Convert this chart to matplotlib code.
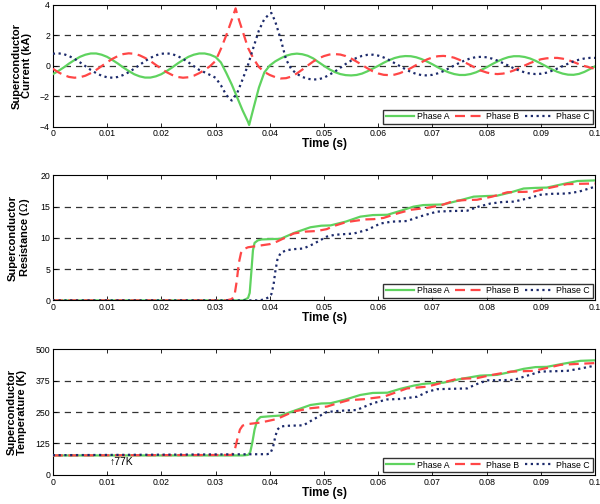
import matplotlib
matplotlib.use('Agg')
import matplotlib.pyplot as plt

plt.rcParams['font.family'] = ['Liberation Sans', 'DejaVu Sans']

# ---- data ----
# current (kA), sampled every ms, extra point at each fault peak
t_ia = [i / 1000 for i in range(0, 37)] + [0.0362] + [i / 1000 for i in range(37, 101)]
ia = [-0.57, -0.36, -0.13, 0.13, 0.36, 0.57, 0.71, 0.79, 0.79, 0.71,
      0.57, 0.36, 0.13, -0.13, -0.36, -0.57, -0.71, -0.79, -0.79, -0.71,
      -0.57, -0.36, -0.13, 0.13, 0.36, 0.57, 0.71, 0.79, 0.79, 0.71,
      0.56, 0.2, -0.5, -1.25, -2.1, -2.95, -3.7, -3.9,
      -2.8, -1.45, -0.45, 0.0, 0.27, 0.47, 0.64, 0.74, 0.78, 0.74,
      0.64, 0.47, 0.22, -0.02, -0.25, -0.43, -0.56, -0.63, -0.65, -0.62,
      -0.53, -0.38, -0.2, -0.02, 0.18, 0.35, 0.49, 0.58, 0.62, 0.61,
      0.54, 0.42, 0.26, 0.08, -0.12, -0.3, -0.45, -0.56, -0.62, -0.62,
      -0.56, -0.45, -0.29, -0.11, 0.09, 0.27, 0.43, 0.55, 0.61, 0.61,
      0.56, 0.46, 0.31, 0.13, -0.06, -0.25, -0.41, -0.53, -0.6, -0.61,
      -0.55, -0.42, -0.24, -0.05]

t_ib = [i / 1000 for i in range(0, 34)] + [0.0337] + [i / 1000 for i in range(34, 101)]
ib = [-0.21, -0.44, -0.62, -0.75, -0.8, -0.77, -0.67, -0.5, -0.29, -0.04,
      0.21, 0.44, 0.62, 0.75, 0.8, 0.77, 0.67, 0.5, 0.29, 0.04,
      -0.21, -0.44, -0.62, -0.75, -0.8, -0.77, -0.67, -0.5, -0.29, -0.04,
      0.3, 1.1, 2.0, 3.0, 3.75,
      3.35, 2.25, 1.15, 0.45, -0.1, -0.42, -0.62, -0.76, -0.85, -0.83,
      -0.72, -0.52, -0.27, 0.0, 0.26, 0.47, 0.62, 0.72, 0.75, 0.72,
      0.62, 0.46, 0.26, 0.04, -0.18, -0.38, -0.52, -0.61, -0.63, -0.6,
      -0.5, -0.35, -0.17, 0.03, 0.22, 0.4, 0.53, 0.61, 0.63, 0.6,
      0.51, 0.37, 0.2, 0.02, -0.17, -0.34, -0.46, -0.54, -0.56, -0.53,
      -0.45, -0.32, -0.16, 0.0, 0.16, 0.3, 0.41, 0.47, 0.5, 0.5,
      0.45, 0.36, 0.23, 0.09, -0.03, -0.13, -0.22]

t_ic = [i / 1000 for i in range(0, 41)] + [0.0403] + [i / 1000 for i in range(41, 101)]
ic = [0.77, 0.8, 0.75, 0.62, 0.44, 0.21, -0.04, -0.29, -0.5, -0.67,
      -0.77, -0.8, -0.75, -0.62, -0.44, -0.21, 0.04, 0.29, 0.5, 0.67,
      0.77, 0.8, 0.75, 0.62, 0.44, 0.21, -0.04, -0.29, -0.45, -0.62,
      -0.8, -1.3, -1.95, -2.3, -1.8, -0.9, 0.05, 1.2, 2.3, 3.05,
      3.4, 3.45,
      2.9, 1.75, 0.4, -0.25, -0.55, -0.75, -0.87, -0.92, -0.9, -0.8,
      -0.6, -0.4, -0.15, 0.1, 0.32, 0.5, 0.63, 0.7, 0.71, 0.65,
      0.53, 0.36, 0.16, -0.04, -0.24, -0.42, -0.55, -0.63, -0.65, -0.61,
      -0.51, -0.37, -0.19, 0.0, 0.18, 0.34, 0.47, 0.55, 0.57, 0.54,
      0.45, 0.32, 0.16, -0.01, -0.18, -0.33, -0.45, -0.53, -0.56, -0.54,
      -0.47, -0.35, -0.2, -0.04, 0.12, 0.27, 0.38, 0.46, 0.5, 0.5]

# resistance (ohm)
t_ra = [0, 0.035, 0.0355, 0.036, 0.0363, 0.0366, 0.0369, 0.0372, 0.0378, 0.0385,
        0.040, 0.042, 0.0445, 0.0475, 0.0495, 0.0512, 0.054, 0.0567, 0.059, 0.0617,
        0.064, 0.0665, 0.0683, 0.070, 0.072, 0.075, 0.0776, 0.080, 0.0819, 0.0845,
        0.0868, 0.089, 0.0911, 0.094, 0.0967, 0.1]
ra = [0, 0, 0.15, 0.4, 1.2, 4.5, 8.0, 9.2, 9.6, 9.75,
      9.8, 9.85, 10.8, 11.7, 11.95, 12.0, 12.6, 13.4, 13.65, 13.7,
      14.3, 15.0, 15.25, 15.3, 15.35, 16.0, 16.6, 16.7, 16.75, 17.3,
      17.9, 18.0, 18.05, 18.6, 19.1, 19.2]

t_rb = [0, 0.032, 0.033, 0.0335, 0.0339, 0.0343, 0.0347, 0.0352, 0.036, 0.0376,
        0.040, 0.0413, 0.043, 0.0444, 0.0465, 0.0487, 0.0505, 0.0518, 0.054, 0.0555,
        0.0575, 0.0592, 0.061, 0.0635, 0.066, 0.069, 0.0715, 0.0739, 0.076, 0.0782,
        0.081, 0.0838, 0.086, 0.0886, 0.091, 0.0948, 0.097, 0.1]
rb = [0, 0, 0.2, 0.8, 3.0, 6.0, 7.6, 8.2, 8.5, 8.7,
      9.0, 9.4, 10.1, 10.7, 11.0, 11.1, 11.4, 11.9, 12.5, 12.7,
      12.95, 13.0, 13.2, 13.9, 14.5, 14.8, 15.2, 15.9, 16.05, 16.1,
      16.6, 17.3, 17.35, 17.4, 17.9, 18.6, 18.65, 18.7]

t_rc = [0, 0.038, 0.039, 0.0398, 0.0403, 0.0407, 0.041, 0.0414, 0.042, 0.043,
        0.0444, 0.0462, 0.048, 0.0505, 0.052, 0.0555, 0.058, 0.0604, 0.0625, 0.0653,
        0.0676, 0.0708, 0.0735, 0.0764, 0.0785, 0.0807, 0.083, 0.085, 0.0875, 0.0899,
        0.092, 0.0948, 0.097, 0.1]
rc = [0, 0, 0.15, 0.5, 1.0, 2.5, 4.5, 6.5, 7.6, 8.0,
      8.2, 8.3, 9.0, 10.2, 10.5, 10.7, 11.3, 12.3, 12.6, 12.7,
      13.4, 14.2, 14.3, 14.35, 15.0, 15.5, 15.75, 15.8, 16.3, 16.9,
      17.05, 17.1, 17.4, 18.2]

# temperature (K)
t_ta = [0, 0.035, 0.036, 0.0364, 0.0368, 0.0372, 0.0377, 0.0383, 0.040, 0.042,
        0.0445, 0.0475, 0.0495, 0.0512, 0.054, 0.0567, 0.059, 0.0617, 0.064, 0.0665,
        0.0683, 0.070, 0.072, 0.0755, 0.0788, 0.0819, 0.0845, 0.0868, 0.089, 0.0911,
        0.094, 0.0973, 0.1]
ta = [77, 77, 79, 90, 130, 180, 218, 230, 233, 236,
      255, 278, 284, 285, 300, 318, 326, 327, 342, 355,
      362, 365, 367, 383, 395, 398, 410, 422, 429, 430,
      442, 454, 456]

t_tb = [0, 0.033, 0.0335, 0.034, 0.0345, 0.035, 0.036, 0.0383, 0.0413, 0.0444,
        0.0475, 0.0506, 0.0525, 0.0545, 0.0573, 0.061, 0.0635, 0.0653, 0.069, 0.0715,
        0.0745, 0.0782, 0.081, 0.0844, 0.0886, 0.091, 0.0936, 0.097, 0.1]
tb = [77, 79, 95, 140, 180, 196, 202, 208, 222, 252,
      265, 272, 285, 297, 301, 311, 330, 344, 351, 365,
      382, 385, 398, 411, 414, 425, 438, 442, 445]

t_tc = [0, 0.0395, 0.0401, 0.0406, 0.041, 0.0414, 0.042, 0.043, 0.0462, 0.048,
        0.0505, 0.053, 0.056, 0.059, 0.0616, 0.064, 0.0672, 0.069, 0.0708, 0.0764,
        0.078, 0.0801, 0.085, 0.0875, 0.0899, 0.0948, 0.097, 0.1]
tc = [78, 82, 85, 110, 150, 180, 192, 195, 197, 220,
      250, 255, 258, 285, 300, 302, 311, 330, 341, 344,
      360, 376, 378, 395, 411, 414, 422, 435]

xticks = [i / 100 for i in range(11)]
xticklabels = ['0', '0.01', '0.02', '0.03', '0.04', '0.05', '0.06', '0.07', '0.08', '0.09', '0.1']

green = '#5fd35f'
red = '#ff4646'
navy = '#1c2a6b'

fig = plt.figure(figsize=(6, 5.04), dpi=100)
ax1 = fig.add_axes([0.088, 0.749, 0.904, 0.242])
ax2 = fig.add_axes([0.088, 0.404, 0.904, 0.248])
ax3 = fig.add_axes([0.088, 0.058, 0.904, 0.249])

series = [
    (ax1, (t_ia, ia), (t_ib, ib), (t_ic, ic), (-4, 4), [-4, -2, 0, 2, 4],
     'Superconductor\nCurrent (kA)'),
    (ax2, (t_ra, ra), (t_rb, rb), (t_rc, rc), (0, 20), [0, 5, 10, 15, 20],
     'Superconductor\nResistance ($\\Omega$)'),
    (ax3, (t_ta, ta), (t_tb, tb), (t_tc, tc), (0, 500), [0, 125, 250, 375, 500],
     'Superconductor\nTemperature (K)'),
]

for ax, a, b, c, ylim, yt, ylab in series:
    for y in yt[1:-1]:
        ax.axhline(y, color='0.2', linestyle=(0, (5, 4)), linewidth=0.9, zorder=1)
    ax.plot(a[0], a[1], color=green, linewidth=1.6, label='Phase A', zorder=3)
    ax.plot(b[0], b[1], color=red, linewidth=1.6, linestyle=(0, (4.5, 2.5)), label='Phase B', zorder=3)
    ax.plot(c[0], c[1], color=navy, linewidth=1.6, linestyle=(0, (1, 1.6)), label='Phase C', zorder=3)
    ax.set_xlim(0, 0.1)
    ax.set_ylim(*ylim)
    ax.set_xticks(xticks)
    ax.set_xticklabels(xticklabels)
    ax.set_yticks(yt)
    ax.tick_params(direction='in', top=True, right=True, labelsize=6.3, length=3, width=0.6, pad=2)
    ax.set_xlabel('Time (s)', fontsize=8.5, fontweight='bold', labelpad=0)
    ax.set_ylabel(ylab, fontsize=8, fontweight='bold', labelpad=6, linespacing=1.0)
    for s in ax.spines.values():
        s.set_linewidth(0.8)
    leg = ax.legend(loc='lower right', ncol=3, fontsize=6.3, frameon=True, fancybox=False,
                    handlelength=3.2, columnspacing=0.6, handletextpad=0.4,
                    borderpad=0.3, borderaxespad=0.3)
    leg.get_frame().set_edgecolor('k')
    leg.get_frame().set_linewidth(1.0)

ax3.text(0.0105, 50, '\u219177K', fontsize=7.5, va='center', ha='left')

fig.savefig('out.png', dpi=100)
